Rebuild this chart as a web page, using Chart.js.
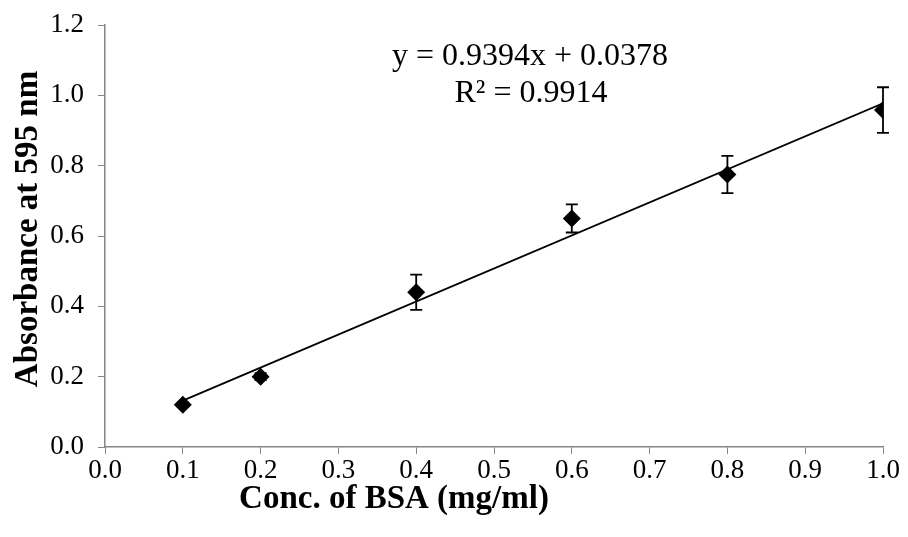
<!DOCTYPE html>
<html>
<head>
<meta charset="utf-8">
<script src="https://cdn.jsdelivr.net/npm/chart.js@4"></script>
<style>
  html, body { margin: 0; padding: 0; background: #fff; }
  #wrap { width: 908px; height: 537px; }
</style>
</head>
<body>
<div id="wrap"><canvas id="bsa-chart"></canvas></div>
<script>
// Standard curve data
let conc = [0.1, 0.2, 0.4, 0.6, 0.8, 1.0];
let absorbance = [0.12, 0.20, 0.44, 0.65, 0.775, 0.958];
let errBars = [0.006, 0.01, 0.05, 0.04, 0.053, 0.065];

// Trendline from the printed equation
let slope = 0.9394;
let intercept = 0.0378;
let eqLabels = ["y = 0.9394x + 0.0378", "R\u00b2 = 0.9914"];
let xTitle = "Conc. of BSA (mg/ml)";
let yTitle = "Absorbance at 595 nm";

let points = conc.map(function (x, i) { return { x: x, y: absorbance[i] }; });
let trend = [conc[0], conc[conc.length - 1]].map(function (x) {
    return { x: x, y: slope * x + intercept };
});

const axisGray = "#868686";
const serif = "'Liberation Serif', 'Times New Roman', serif";

// error bars, equation text and axis titles
const extras = {
    id: 'extras',
    afterDatasetsDraw(chart) {
        let c = chart.ctx;
        let xs = chart.scales.x, ys = chart.scales.y;
        c.save();
        c.strokeStyle = "#000";
        c.lineWidth = 1.8;
        conc.forEach(function (x, i) {
            let px = xs.getPixelForValue(x);
            let top = ys.getPixelForValue(absorbance[i] + errBars[i]);
            let bot = ys.getPixelForValue(absorbance[i] - errBars[i]);
            c.beginPath();
            c.moveTo(px, top); c.lineTo(px, bot);
            c.moveTo(px - 6, top); c.lineTo(px + 6, top);
            c.moveTo(px - 6, bot); c.lineTo(px + 6, bot);
            c.stroke();
        });
        c.fillStyle = "#000";
        c.textAlign = "center";
        c.textBaseline = "middle";
        c.font = "32px " + serif;
        c.fillText(eqLabels[0], 530, 57);
        c.fillText(eqLabels[1], 531, 94);

        c.font = "bold 33px " + serif;
        c.fillText(xTitle, 394, 499);
        c.translate(28, 229);
        c.rotate(-Math.PI / 2);
        c.fillText(yTitle, 0, 0);
        c.restore();
    }
};

const ctx = document.getElementById('bsa-chart');

let chart = new Chart(ctx, {
    type: 'scatter',
    data: {
        datasets: [{
            label: "Absorbance",
            data: points,
            pointStyle: 'rectRot',
            pointRadius: 9,
            pointHoverRadius: 9,
            backgroundColor: "#000",
            borderColor: "#000",
            borderWidth: 0,
            order: 1
        }, {
            label: "Linear fit",
            type: 'line',
            data: trend,
            borderColor: "#000",
            borderWidth: 1.8,
            pointRadius: 0,
            fill: false,
            order: 2
        }]
    },
    options: {
        responsive: true,
        maintainAspectRatio: false,
        animation: false,
        layout: { padding: { top: 25, right: 25, left: 0, bottom: 0 } },
        scales: {
            x: {
                type: 'linear',
                min: 0,
                max: 1,
                afterFit: function (s) { s.height = 90; s.paddingLeft = 0; s.paddingRight = 0; },
                ticks: {
                    stepSize: 0.1,
                    color: "#000",
                    padding: 1,
                    maxRotation: 0,
                    autoSkip: false,
                    font: { family: serif, size: 27 },
                    callback: function (v) { return v.toFixed(1); }
                },
                grid: { drawOnChartArea: false, color: axisGray, tickLength: 7 },
                border: { color: axisGray, width: 1.5 }
            },
            y: {
                min: 0,
                max: 1.2,
                afterFit: function (s) { s.width = 105; s.paddingTop = 0; s.paddingBottom = 0; },
                ticks: {
                    stepSize: 0.2,
                    color: "#000",
                    padding: 14,
                    font: { family: serif, size: 27 },
                    callback: function (v) { return v.toFixed(1); }
                },
                grid: { drawOnChartArea: false, color: axisGray, tickLength: 7 },
                border: { color: axisGray, width: 1.5 }
            }
        },
        plugins: {
            legend: { display: false },
            tooltip: { enabled: false }
        }
    },
    plugins: [extras]
});
</script>
</body>
</html>
